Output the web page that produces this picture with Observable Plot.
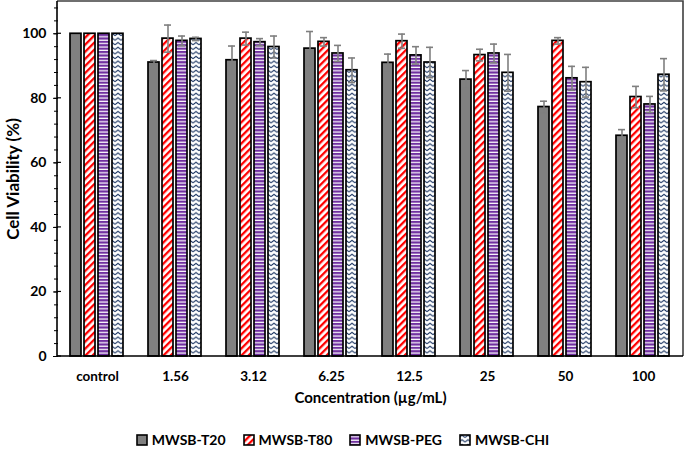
<!DOCTYPE html>
<html><head><meta charset="utf-8">
<script src="https://cdn.jsdelivr.net/npm/d3@7"></script>
<script src="https://cdn.jsdelivr.net/npm/@observablehq/plot@0.6"></script>
<style>
body{margin:0;background:#fff;font-family:Lato, "Open Sans", sans-serif;}
#wrap{width:685px;height:451px;position:relative;}
#legend{position:absolute;top:431px;left:0;width:685px;display:flex;justify-content:center;gap:17px;font-weight:700;font-size:14px;color:#000;}
.item{display:flex;align-items:center;gap:4px;line-height:18px}
.item svg{display:block}
</style></head><body>
<svg width="0" height="0" style="position:absolute">
<defs>
<pattern id="p-t80" width="5" height="5" patternUnits="userSpaceOnUse" patternTransform="rotate(45)">
 <rect width="5" height="5" fill="#fff"/><rect width="2.3" height="5" fill="#ff0000"/>
</pattern>
<pattern id="p-peg" width="6" height="3.4" patternUnits="userSpaceOnUse">
 <rect width="6" height="3.4" fill="#fff"/><rect width="6" height="2.2" fill="#7030a0"/>
</pattern>
<pattern id="p-chi" width="6" height="4.6" patternUnits="userSpaceOnUse">
 <rect width="6" height="4.6" fill="#fff"/><path d="M0,3.4L3,1.2L6,3.4" fill="none" stroke="#1f3864" stroke-width="1.1"/>
</pattern>
</defs></svg>
<div id="wrap"><div id="chart"></div><div id="legend"></div></div>
<script>
const concentrations = ["control","1.56","3.12","6.25","12.5","25","50","100"];
const series = ["MWSB-T20","MWSB-T80","MWSB-PEG","MWSB-CHI"];
const t20 = [100, 91.1, 91.8, 95.4, 91.0, 85.8, 77.3, 68.4];
const t20Err = [0, 0.6, 4.4, 5.3, 2.7, 2.8, 1.8, 1.9];
const t80 = [100, 98.5, 98.5, 97.5, 97.7, 93.4, 97.8, 80.4];
const t80Err = [0, 4.2, 2.0, 1.3, 2.2, 1.8, 1.0, 3.3];
const peg = [100, 97.8, 97.4, 93.9, 93.3, 93.9, 86.2, 78.1];
const pegErr = [0, 1.5, 1.1, 2.5, 2.7, 2.9, 3.7, 2.5];
const chi = [100, 98.4, 95.9, 88.7, 91.1, 87.9, 85.0, 87.3];
const chiErr = [0, 0.5, 3.4, 3.8, 4.7, 5.7, 4.6, 5.0];
const yMajor = [0,20,40,60,80,100];
const yMinor = d3.range(0, 110, 4);
const fills = ["#808080","url(#p-t80)","url(#p-peg)","url(#p-chi)"];

const values = [t20, t80, peg, chi];
const errors = [t20Err, t80Err, pegErr, chiErr];
const rows = [];
concentrations.forEach((c, i) => series.forEach((s, j) => rows.push({conc: c, series: s, value: values[j][i], err: errors[j][i]})));
const errRows = rows.filter(d => d.err > 0);

const chart = Plot.plot({
  width: 685, height: 412, marginLeft: 57, marginRight: 2, marginTop: 1, marginBottom: 56,
  style: {fontFamily: "Lato, sans-serif", fontSize: "13px", fontWeight: 700, color: "#000", background: "#fff", overflow: "visible"},
  fx: {domain: concentrations, padding: 0, axis: "bottom", tickSize: 0, tickPadding: 15, label: "Concentration (µg/mL)", labelAnchor: "center", labelOffset: 46},
  x: {domain: series, axis: null, paddingInner: 0.18, paddingOuter: 0.865},
  y: {domain: [0, 110], axis: null},
  color: {domain: series, range: fills},
  marks: [
    Plot.axisY({ticks: yMinor, tickSize: 4, tickFormat: () => "", label: null}),
    Plot.axisY({ticks: yMajor, tickSize: 5, tickPadding: 7, fontSize: 14, label: "Cell Viability (%)", labelAnchor: "center", labelArrow: "none", labelOffset: 52}),
    Plot.barY(rows, {fx: "conc", x: "series", y: "value", fill: "series", stroke: "#000", strokeWidth: 1.7}),
    Plot.ruleX(errRows, {fx: "conc", x: "series", y1: d => d.value - d.err, y2: d => d.value + d.err, stroke: "#7f7f7f", strokeWidth: 1.6}),
    Plot.tickY(errRows, {fx: "conc", x: "series", y: d => d.value + d.err, stroke: "#7f7f7f", strokeWidth: 1.6, insetLeft: 2, insetRight: 2}),
    Plot.tickY(errRows, {fx: "conc", x: "series", y: d => d.value - d.err, stroke: "#7f7f7f", strokeWidth: 1.6, insetLeft: 2, insetRight: 2})
  ]
});
document.getElementById("chart").appendChild(chart);

const svg = d3.select(chart.tagName.toLowerCase() === "svg" ? chart : chart.querySelector("svg"));
// axis label styling
svg.selectAll("text").filter(function() { return this.textContent === "Cell Viability (%)"; })
  .attr("font-size", null).style("font-size", "17px").style("font-weight", 700);
svg.selectAll("text").filter(function() { return this.textContent === "Concentration (µg/mL)"; })
  .attr("font-size", null).style("font-size", "15px").style("font-weight", 700);
svg.selectAll('g[aria-label="fx-axis tick label"] text').style("font-size", "13.5px");

// frame around the plot area derived from the scales
const fxR = chart.scale("fx").range, yR = chart.scale("y").range;
const x0 = Math.min(...fxR), x1 = Math.max(...fxR), yb = Math.max(...yR), yt = Math.min(...yR);
svg.append("path").attr("d", `M${x0},${yt}H${x1}V${yb}`).attr("fill", "none").attr("stroke", "#404040").attr("stroke-width", 1.6);
svg.append("path").attr("d", `M${x0},${yt}V${yb}H${x1}`).attr("fill", "none").attr("stroke", "#000").attr("stroke-width", 1.6);
const yS = chart.scale("y");
svg.append("g").selectAll("line").data(yMajor).join("line")
  .attr("x1", x0).attr("x2", x0 + 4).attr("y1", d => yS.apply(d)).attr("y2", d => yS.apply(d)).attr("stroke", "#000").attr("stroke-width", 1.2);

// legend
const legend = d3.select("#legend");
series.forEach((s, j) => {
  const it = legend.append("div").attr("class", "item");
  const sw = it.append("svg").attr("width", 12).attr("height", 12);
  sw.append("rect").attr("x", 1).attr("y", 1).attr("width", 10).attr("height", 10).attr("fill", fills[j]).attr("stroke", "#000").attr("stroke-width", 1.6);
  it.append("span").text(s);
});
</script>
</body></html>
